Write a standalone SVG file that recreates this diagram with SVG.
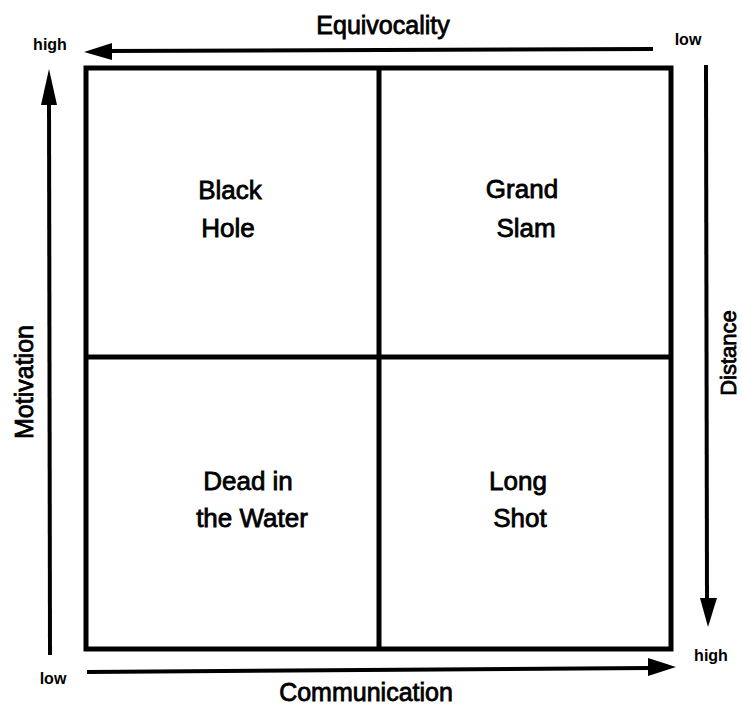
<svg xmlns="http://www.w3.org/2000/svg" width="742" height="706" viewBox="0 0 742 706">
<defs>
<style>
.q{font-family:"Liberation Sans",Arial,sans-serif;font-size:26px;fill:#000;stroke:#000;stroke-width:0.8;text-anchor:middle}
.ax{font-family:"Liberation Sans",Arial,sans-serif;font-size:25px;fill:#000;stroke:#000;stroke-width:0.8;text-anchor:middle}
.sm{font-family:"Liberation Sans",Arial,sans-serif;font-size:16px;font-weight:bold;fill:#000;text-anchor:middle}
.ln{stroke:#000;stroke-width:4;fill:none}
.box{stroke:#000;stroke-width:5;fill:none}
</style>
</defs>
<rect width="742" height="706" fill="#fff"/>
<g id="grid">
<rect class="box" x="86" y="68" width="585" height="581"/>
<line class="box" x1="379" y1="68" x2="379" y2="649"/>
<line class="box" x1="86" y1="357" x2="671" y2="357"/>
</g>
<g id="quad-black-hole"><text class="q" x="230" y="199">Black</text><text class="q" x="228" y="237">Hole</text></g>
<g id="quad-grand-slam"><text class="q" x="522" y="198">Grand</text><text class="q" x="526" y="237">Slam</text></g>
<g id="quad-dead-water"><text class="q" x="248" y="490">Dead in</text><text class="q" x="252" y="527">the Water</text></g>
<g id="quad-long-shot"><text class="q" x="518" y="490">Long</text><text class="q" x="520" y="527">Shot</text></g>
<g id="connectors">
<line class="ln" x1="653" y1="49" x2="105" y2="51"/>
<polygon points="84,52 112,43 112,60" fill="#000"/>
<line class="ln" x1="50" y1="655" x2="49" y2="100"/>
<polygon points="49,69 41,105 57,105" fill="#000"/>
<line class="ln" x1="87" y1="672" x2="650" y2="668"/>
<polygon points="676,667 648,658 648,676" fill="#000"/>
<line class="ln" x1="706" y1="65" x2="707" y2="600"/>
<polygon points="708,627 700,598 717,598" fill="#000"/>
</g>
<g id="labels">
<text class="ax" x="383" y="34">Equivocality</text>
<text class="ax" x="366" y="701">Communication</text>
<text class="ax" transform="translate(33,382) rotate(-90)">Motivation</text>
<text class="ax" style="font-size:22px" transform="translate(736,353) rotate(-90)">Distance</text>
<text class="sm" x="50" y="50">high</text>
<text class="sm" x="688" y="45">low</text>
<text class="sm" x="53" y="684">low</text>
<text class="sm" x="711" y="661">high</text>
</g>
</svg>
